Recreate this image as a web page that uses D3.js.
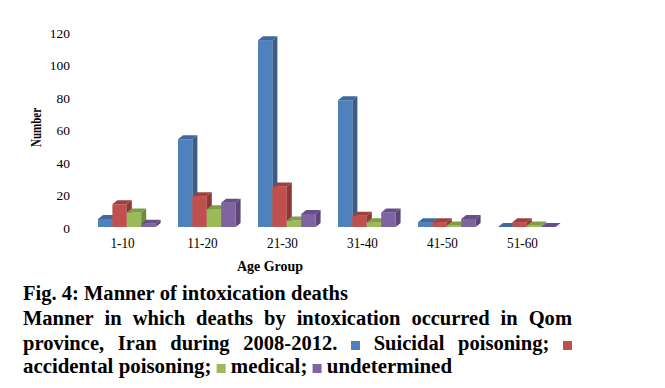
<!DOCTYPE html>
<html><head><meta charset="utf-8">
<script src="https://cdn.jsdelivr.net/npm/d3@7"></script>
<style>body{margin:0;background:#fff}svg{display:block}</style>
</head><body>
<svg id="c" width="665" height="388"></svg>
<script>
const categories = ["1-10","11-20","21-30","31-40","41-50","51-60"];
const seriesNames = ["Suicidal poisoning","accidental poisoning","medical","undetermined"];
const suicidal = [5, 54, 115, 78, 3, 0];
const accidental = [14, 19, 25, 7, 3, 3];
const medical = [9, 11, 4, 3, 1, 1];
const undetermined = [2, 15, 8, 9, 5, 0];
const yTicks = [0, 20, 40, 60, 80, 100, 120];

const seriesValues = [suicidal, accidental, medical, undetermined];
const front = ["#4F81BD","#C0504D","#9BBB59","#8064A2"];
const side = ["#385D8A","#8C3836","#71893F","#5C4776"];
const topc = ["#3F6A9E","#9E413E","#7F9C47","#684F88"];

const svg = d3.select("#c");
const serif = "'Liberation Serif','Times New Roman',serif";

const base = 227;
const y = d3.scaleLinear().domain([0,120]).range([base, 32]);
const yLab = d3.scaleLinear().domain([0,120]).range([229, 34]);
const x = d3.scaleBand().domain(categories).range([82.5, 562.5]).padding(0);
const xs = d3.scaleBand().domain(seriesNames).range([-24.5, 33.1]).padding(0);
const dx = 5, dy = 4;

// y axis labels
const ga = svg.append("g").attr("transform","translate(70,0)")
  .call(d3.axisLeft(yLab).tickValues(yTicks).tickSize(0).tickPadding(0));
ga.select(".domain").remove();
ga.selectAll("text").attr("font-family", serif).attr("font-size", 13.5).attr("fill","#000")
  .attr("dy", null).attr("dominant-baseline","middle").attr("x", 0);

// x axis labels
const gx = svg.append("g").attr("transform","translate(0,245)")
  .call(d3.axisBottom(x).tickSize(0).tickPadding(0));
gx.select(".domain").remove();
gx.selectAll("text").attr("font-family", serif).attr("font-size", 15).attr("fill","#000")
  .attr("y", 0).attr("dy", null).attr("dominant-baseline","middle")
  .each(function(){ const w=this.getComputedTextLength(); d3.select(this).attr("textLength", w*0.88).attr("lengthAdjust","spacingAndGlyphs"); });

// bars
seriesNames.forEach((s, si) => {
  const g = svg.append("g");
  categories.forEach((c, ci) => {
    const v = seriesValues[si][ci];
    const x0 = x(c) + x.bandwidth()/2 + xs(s);
    const w = xs.bandwidth();
    const yt = y(v);
    if (v > 0) g.append("rect").attr("x", x0).attr("y", yt).attr("width", w).attr("height", base - yt).attr("fill", front[si]);
    g.append("path").attr("d", `M${x0+w},${yt}L${x0+w+dx},${yt-dy}L${x0+w+dx},${base-dy}L${x0+w},${base}Z`).attr("fill", side[si]);
    g.append("path").attr("d", `M${x0},${yt}L${x0+dx},${yt-dy}L${x0+w+dx},${yt-dy}L${x0+w},${yt}Z`).attr("fill", topc[si]);
  });
});

// axis titles
svg.append("text").attr("x", 270).attr("y", 268).attr("text-anchor","middle").attr("dominant-baseline","middle")
  .attr("font-family", serif).attr("font-weight","bold").attr("font-size", 15).text("Age Group")
  .attr("textLength", 66).attr("lengthAdjust","spacingAndGlyphs");
svg.append("text").attr("transform","translate(38,127.5) rotate(-90)").attr("text-anchor","middle").attr("dominant-baseline","middle")
  .attr("font-family", serif).attr("font-weight","bold").attr("font-size", 15).text("Number")
  .attr("textLength", 39).attr("lengthAdjust","spacingAndGlyphs");

// caption
const fs = 22;
function measure(t){
  const n = svg.append("text").attr("font-family", serif).attr("font-weight","bold").attr("font-size", fs).text(t);
  const w = n.node().getComputedTextLength(); n.remove(); return w;
}
const spaceW = measure("a b") - measure("ab");
const SQ = 9;
function drawLine(items, baseY, x0, x1, justify, sxFixed){
  const nat = items.map(it => typeof it === "string" ? measure(it) : null);
  let sx = sxFixed;
  if (!justify) {
    const sqW = items.filter(it=>typeof it!=="string").length*SQ;
    const natTot = nat.reduce((a,b)=>a+(b||0),0) + spaceW*(items.length-1);
    sx = (x1 - x0 - sqW) / (natTot);
  }
  const widths = items.map((it,i) => typeof it === "string" ? nat[i]*sx : SQ);
  const total = widths.reduce((a,b)=>a+b,0);
  const gap = justify ? (x1 - x0 - total)/(items.length-1) : spaceW*sx;
  let cx = x0;
  items.forEach((it,i) => {
    if (typeof it === "string") {
      svg.append("text").attr("transform",`translate(${cx},${baseY}) scale(${sx},1)`)
        .attr("font-family", serif).attr("font-weight","bold").attr("font-size", fs).attr("fill","#000").text(it);
    } else {
      svg.append("rect").attr("x", cx).attr("y", baseY - SQ).attr("width", SQ).attr("height", SQ).attr("fill", it.color);
    }
    cx += widths[i] + gap;
  });
  return sx;
}
const l1 = ["Fig.","4:","Manner","of","intoxication","deaths"];
const sx1 = drawLine(l1, 300, 23, 348, false);
drawLine(["Manner","in","which","deaths","by","intoxication","occurred","in","Qom"], 325, 23, 572, true, sx1);
drawLine(["province,","Iran","during","2008-2012.",{color:front[0]},"Suicidal","poisoning;",{color:front[1]}], 350, 23, 572, true, sx1);
drawLine(["accidental","poisoning;",{color:front[2]},"medical;",{color:front[3]},"undetermined"], 373, 23, 452, false);
</script>
</body></html>
